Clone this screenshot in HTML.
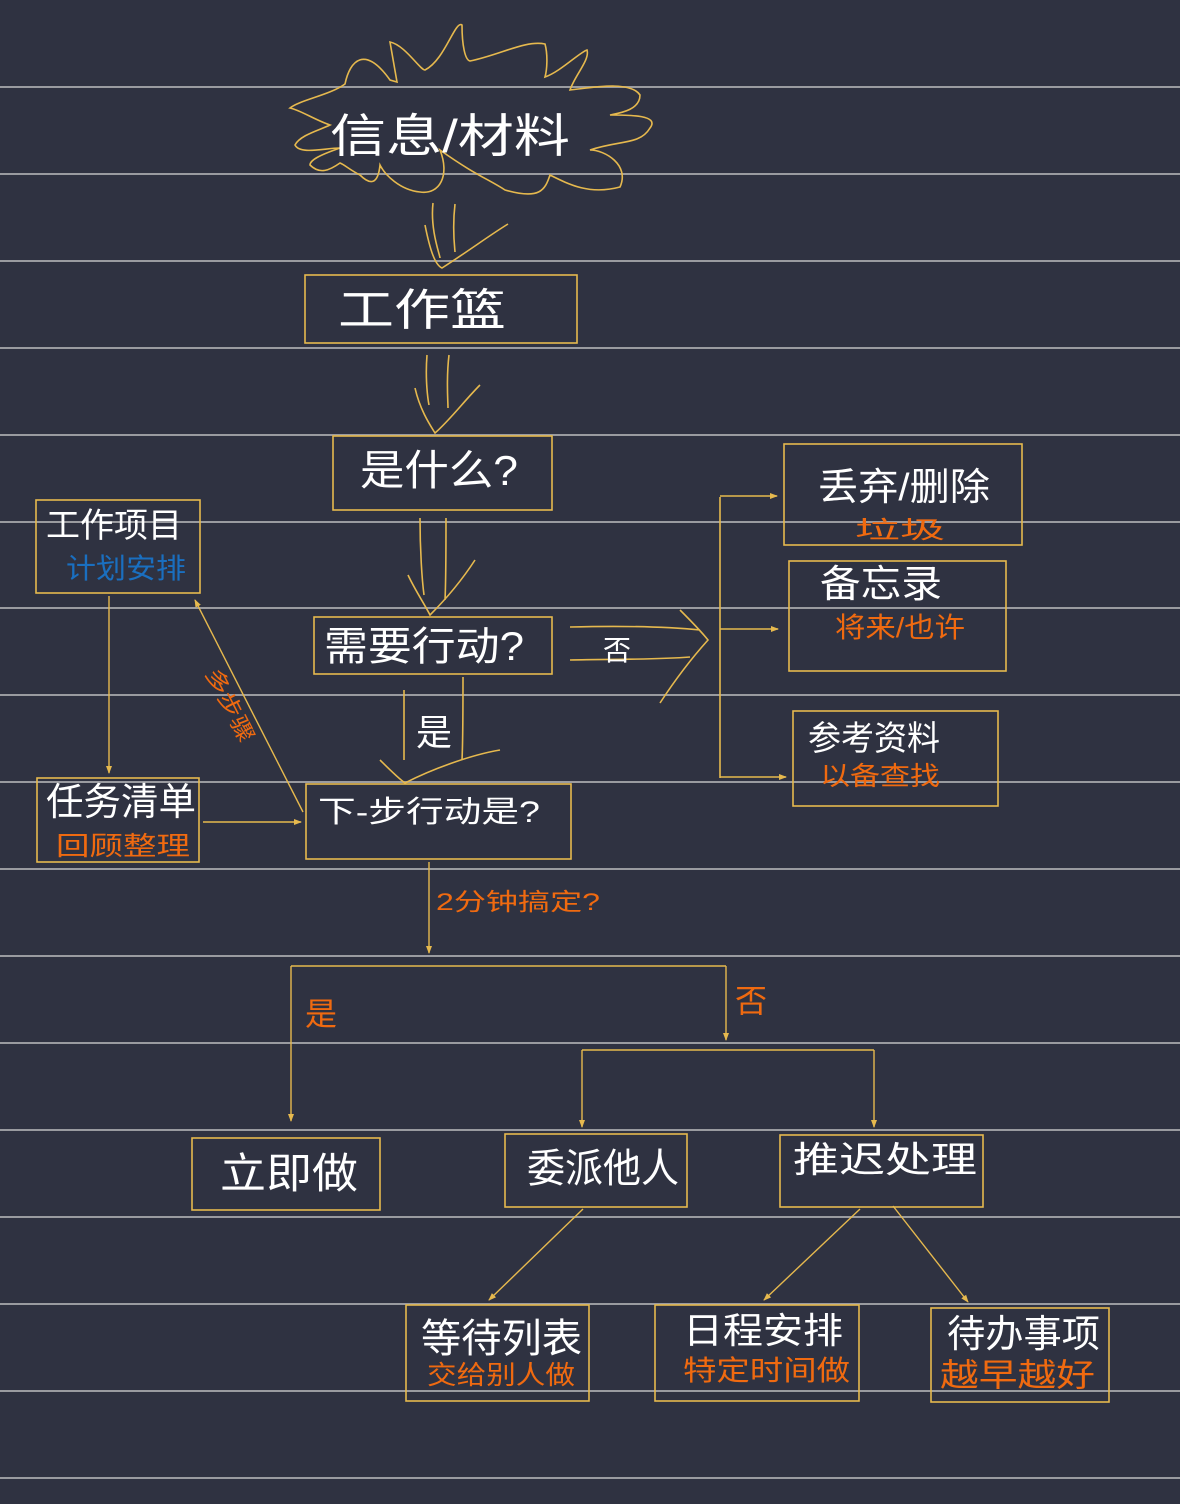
<!DOCTYPE html>
<html><head><meta charset="utf-8"><style>
html,body{margin:0;padding:0;background:#2f3241;}
svg{display:block}
text{font-family:"Liberation Sans","Noto Sans CJK SC",sans-serif;}
.w{fill:#fff}
.o{fill:#f06a10}
.b{fill:#1a6fc0}
</style></head><body>
<svg width="1180" height="1504" viewBox="0 0 1180 1504" xmlns="http://www.w3.org/2000/svg">
<defs><marker id="a" markerWidth="8" markerHeight="8" refX="7" refY="4" orient="auto" markerUnits="userSpaceOnUse"><path d="M0,1 L8,4 L0,7 Z" fill="#e6b94e"/></marker></defs>
<rect width="1180" height="1504" fill="#2f3241"/>
<g stroke="#9a9ba0" stroke-width="2">
<line x1="0" y1="87" x2="1180" y2="87"/><line x1="0" y1="174" x2="1180" y2="174"/><line x1="0" y1="261" x2="1180" y2="261"/><line x1="0" y1="348" x2="1180" y2="348"/><line x1="0" y1="435" x2="1180" y2="435"/><line x1="0" y1="522" x2="1180" y2="522"/><line x1="0" y1="608" x2="1180" y2="608"/><line x1="0" y1="695" x2="1180" y2="695"/><line x1="0" y1="782" x2="1180" y2="782"/><line x1="0" y1="869" x2="1180" y2="869"/><line x1="0" y1="956" x2="1180" y2="956"/><line x1="0" y1="1043" x2="1180" y2="1043"/><line x1="0" y1="1130" x2="1180" y2="1130"/><line x1="0" y1="1217" x2="1180" y2="1217"/><line x1="0" y1="1304" x2="1180" y2="1304"/><line x1="0" y1="1391" x2="1180" y2="1391"/><line x1="0" y1="1478" x2="1180" y2="1478"/>
</g>
<g fill="none" stroke="#e6b94e" stroke-width="1.6">
<path d="M345,84 C350,60 365,45 390,80 L397,82 L390,42 C405,45 420,70 425,70 C445,60 455,20 462,25 C462,45 465,60 470,61 C500,55 525,40 545,44 C548,55 547,70 545,77 C560,72 580,52 587,50 C590,60 575,75 570,90 C590,88 630,80 640,95 C640,110 620,113 610,115 C630,115 660,115 650,128 C640,145 620,140 590,150 C605,150 630,165 620,187 C590,195 570,185 550,175 C545,190 540,200 505,190 C490,180 475,175 440,150 C450,175 440,195 420,192 C400,190 385,175 380,165 C378,185 370,185 360,175 C350,170 345,165 340,163 C330,170 320,175 310,165 C310,160 320,155 340,148 C325,148 300,155 295,145 C300,135 320,130 330,125 C315,120 300,110 290,108 C300,100 330,95 345,84 Z"/>
<rect x="305" y="275" width="272" height="68"/>
<rect x="333" y="436" width="219" height="74"/>
<rect x="314" y="617" width="238" height="57"/>
<rect x="306" y="784" width="265" height="75"/>
<rect x="36" y="500" width="164" height="93"/>
<rect x="37" y="778" width="162" height="84"/>
<rect x="784" y="444" width="238" height="101"/>
<rect x="789" y="561" width="217" height="110"/>
<rect x="793" y="711" width="205" height="95"/>
<rect x="192" y="1138" width="188" height="72"/>
<rect x="505" y="1134" width="182" height="73"/>
<rect x="780" y="1135" width="203" height="72"/>
<rect x="406" y="1305" width="183" height="96"/>
<rect x="655" y="1305" width="204" height="96"/>
<rect x="931" y="1308" width="178" height="94"/>
<path d="M433,203 C430,230 440,255 440,258 M455,204 C452,230 455,250 455,252 M425,225 C430,250 435,265 442,268 C470,250 490,235 508,224"/>
<path d="M427,355 C425,380 428,400 429,405 M449,355 C446,380 448,400 448,408 M415,388 C420,410 430,425 435,433 C450,420 465,400 480,385"/>
<path d="M420,518 C420,550 422,580 424,595 M446,518 C446,550 446,580 445,600 M408,575 C415,590 425,605 430,615 C445,600 462,580 475,560"/>
<path d="M404,690 C404,720 404,740 404,760 M463,677 C463,710 463,740 462,760 M380,760 C390,770 398,778 405,783 C430,770 470,755 500,750"/>
<path d="M570,627 C610,626 660,626 700,630 M570,660 C610,659 650,660 690,657 M680,610 C690,620 700,630 708,640 C690,660 675,680 660,703"/>
<path d="M720,497 L720,778"/>
</g>
<g fill="none" stroke="#e6b94e" stroke-width="1.4" marker-end="url(#a)">
<line x1="720" y1="496" x2="777" y2="496"/>
<line x1="720" y1="629" x2="778" y2="629"/>
<line x1="720" y1="777" x2="786" y2="777"/>
<line x1="109" y1="596" x2="109" y2="773"/>
<line x1="203" y1="822" x2="301" y2="822"/>
<line x1="303" y1="812" x2="195" y2="600"/>
<line x1="429" y1="862" x2="429" y2="953"/>
<line x1="291" y1="966" x2="291" y2="1121"/>
<line x1="726" y1="966" x2="726" y2="1040"/>
<line x1="582" y1="1050" x2="582" y2="1127"/>
<line x1="874" y1="1050" x2="874" y2="1127"/>
<line x1="583" y1="1209" x2="489" y2="1300"/>
<line x1="860" y1="1209" x2="764" y2="1300"/>
<line x1="893" y1="1206" x2="968" y2="1302"/>
</g>
<g fill="none" stroke="#e6b94e" stroke-width="1.4">
<polyline points="291,966 726,966"/>
<polyline points="582,1050 874,1050"/>
</g>
<text x="330" y="152" class="w" font-size="46" textLength="240" lengthAdjust="spacingAndGlyphs">信息/材料</text>
<text x="338" y="325" class="w" font-size="44" textLength="168" lengthAdjust="spacingAndGlyphs">工作篮</text>
<text x="360" y="485" class="w" font-size="42" textLength="158" lengthAdjust="spacingAndGlyphs">是什么?</text>
<text x="324" y="660" class="w" font-size="40" textLength="200" lengthAdjust="spacingAndGlyphs">需要行动?</text>
<text x="318" y="822" class="w" font-size="30" textLength="222" lengthAdjust="spacingAndGlyphs">下-步行动是?</text>
<text x="603" y="660" class="w" font-size="28">否</text>
<text x="416" y="745" class="w" font-size="36">是</text>
<text x="46" y="537" class="w" font-size="34" textLength="136" lengthAdjust="spacingAndGlyphs">工作项目</text>
<text x="66" y="578" class="b" font-size="28" textLength="120" lengthAdjust="spacingAndGlyphs">计划安排</text>
<text x="46" y="815" class="w" font-size="38" textLength="150" lengthAdjust="spacingAndGlyphs">任务清单</text>
<text x="56" y="855" class="o" font-size="26" textLength="134" lengthAdjust="spacingAndGlyphs">回顾整理</text>
<text x="0" y="0" class="o" font-size="22" transform="translate(205,673) rotate(63)" textLength="80" lengthAdjust="spacingAndGlyphs">多步骤</text>
<text x="818" y="500" class="w" font-size="38" textLength="172" lengthAdjust="spacingAndGlyphs">丢弃/删除</text>
<text x="855" y="538" class="o" font-size="24" textLength="90" lengthAdjust="spacingAndGlyphs">垃圾</text>
<text x="820" y="597" class="w" font-size="38" textLength="122" lengthAdjust="spacingAndGlyphs">备忘录</text>
<text x="835" y="637" class="o" font-size="28" textLength="130" lengthAdjust="spacingAndGlyphs">将来/也许</text>
<text x="808" y="750" class="w" font-size="34" textLength="132" lengthAdjust="spacingAndGlyphs">参考资料</text>
<text x="820" y="785" class="o" font-size="26" textLength="120" lengthAdjust="spacingAndGlyphs">以备查找</text>
<text x="436" y="910" class="o" font-size="24" textLength="164" lengthAdjust="spacingAndGlyphs">2分钟搞定?</text>
<text x="305" y="1025" class="o" font-size="32">是</text>
<text x="735" y="1012" class="o" font-size="32">否</text>
<text x="220" y="1188" class="w" font-size="42" textLength="138" lengthAdjust="spacingAndGlyphs">立即做</text>
<text x="527" y="1182" class="w" font-size="40" textLength="152" lengthAdjust="spacingAndGlyphs">委派他人</text>
<text x="793" y="1172" class="w" font-size="36" textLength="184" lengthAdjust="spacingAndGlyphs">推迟处理</text>
<text x="421" y="1352" class="w" font-size="40" textLength="161" lengthAdjust="spacingAndGlyphs">等待列表</text>
<text x="427" y="1384" class="o" font-size="26" textLength="148" lengthAdjust="spacingAndGlyphs">交给别人做</text>
<text x="683" y="1343" class="w" font-size="36" textLength="160" lengthAdjust="spacingAndGlyphs">日程安排</text>
<text x="683" y="1380" class="o" font-size="28" textLength="167" lengthAdjust="spacingAndGlyphs">特定时间做</text>
<text x="947" y="1347" class="w" font-size="38" textLength="153" lengthAdjust="spacingAndGlyphs">待办事项</text>
<text x="940" y="1386" class="o" font-size="32" textLength="155" lengthAdjust="spacingAndGlyphs">越早越好</text>
</svg>
</body></html>
